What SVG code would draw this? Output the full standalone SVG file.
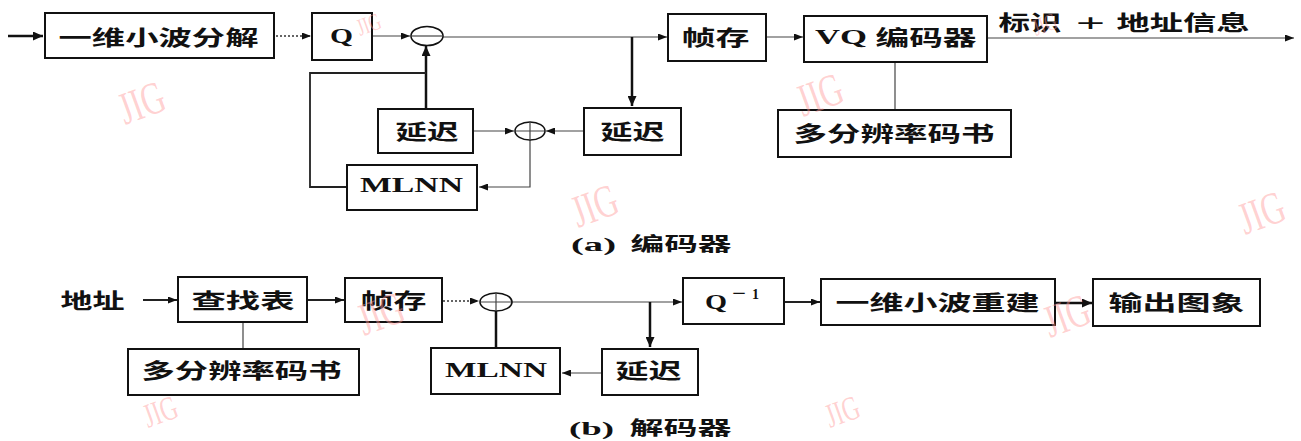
<svg xmlns="http://www.w3.org/2000/svg" width="1301" height="441" viewBox="0 0 1301 441">
<style>
.box{fill:#fff;stroke:#111;stroke-width:2}
.sum{fill:#fff;stroke:#111;stroke-width:1.6}
.cjk{font-family:"Noto Sans CJK SC","Noto Sans CJK JP",sans-serif;font-weight:700;font-size:21px;fill:#111}
.cap{font-family:"Noto Sans CJK SC","Noto Sans CJK JP",sans-serif;font-weight:700;font-size:19px;fill:#111}
.lat{font-family:"Liberation Serif",serif;font-weight:700;font-size:20px;fill:#111}
.thin{fill:none;stroke:#444;stroke-width:1.2}
.thick{fill:none;stroke:#111;stroke-width:2.5}
.med{fill:none;stroke:#222;stroke-width:1.8}
.dot{fill:none;stroke:#333;stroke-width:1.4;stroke-dasharray:2 2}
.wm{font-family:"Liberation Serif",serif;font-size:46px;fill:#ff9a9a;fill-opacity:0.45}
</style>
<defs>
<marker id="ah" markerUnits="userSpaceOnUse" markerWidth="9" markerHeight="7" refX="9" refY="3.5" orient="auto"><path d="M0,0 L9,3.5 L0,7 z" fill="#111"/></marker>
<marker id="ahb" markerUnits="userSpaceOnUse" markerWidth="10" markerHeight="9" refX="10" refY="4.5" orient="auto"><path d="M0,0 L10,4.5 L0,9 z" fill="#111"/></marker>
</defs>
<rect width="1301" height="441" fill="#fff"/>

<g id="connectors">
<path class="thick" d="M8,36 H43" marker-end="url(#ahb)"/>
<path class="dot" d="M276,36 H311" marker-end="url(#ah)"/>
<path class="thin" d="M372,36 H410" marker-end="url(#ah)"/>
<path class="thin" d="M443,37 H667" marker-end="url(#ah)"/>
<path class="thick" d="M632,37 V106" marker-end="url(#ahb)"/>
<path class="thin" d="M766,37 H803" marker-end="url(#ah)"/>
<path class="thin" d="M987,38 H1294" marker-end="url(#ah)"/>
<path class="thin" d="M895,62 V110"/>
<path class="thin" d="M584,131 H546" marker-end="url(#ah)"/>
<path class="thin" d="M474,131 H514" marker-end="url(#ah)"/>
<path class="thick" d="M426,109 V46" marker-end="url(#ahb)"/>
<path class="med" d="M347,187 H310 V73 H426"/>
<path class="thin" d="M530,140 V187 H479" marker-end="url(#ah)"/>

<path class="med" d="M143,300 H177" marker-end="url(#ah)"/>
<path class="med" d="M307,300 H344" marker-end="url(#ah)"/>
<path class="thin" d="M243,322 V349"/>
<path class="dot" d="M443,301 H479" marker-end="url(#ah)"/>
<path class="thin" d="M512,302 H682" marker-end="url(#ah)"/>
<path class="thick" d="M650,302 V347" marker-end="url(#ahb)"/>
<path class="med" d="M784,302 H820" marker-end="url(#ah)"/>
<path class="thick" d="M1055,303 H1092" marker-end="url(#ahb)"/>
<path class="thick" d="M496,311 V348"/>
<path class="thin" d="M602,373 H562" marker-end="url(#ah)"/>
</g>

<g id="a_wavelet"><rect class="box" x="45" y="13" width="229" height="45"/><text class="cjk" x="58.5" y="45" textLength="200" lengthAdjust="spacingAndGlyphs">一维小波分解</text></g>
<g id="a_q"><rect class="box" x="312" y="13" width="60" height="47"/><text class="lat" x="330" y="43" textLength="23" lengthAdjust="spacingAndGlyphs">Q</text></g>
<g id="a_minus"><ellipse class="sum" cx="427" cy="36" rx="16" ry="9.5"/><path class="thin" d="M411,36 H443"/></g>
<g id="a_framebuf"><rect class="box" x="668" y="14" width="98" height="47"/><text class="cjk" x="681.5" y="45" textLength="68" lengthAdjust="spacingAndGlyphs">帧存</text></g>
<g id="a_vq"><rect class="box" x="804" y="16" width="183" height="46"/><text class="lat" x="815" y="44" textLength="52" lengthAdjust="spacingAndGlyphs">VQ</text><text class="cjk" x="875.5" y="45" textLength="101" lengthAdjust="spacingAndGlyphs">编码器</text></g>
<g id="a_outlabel"><text class="cjk" x="998.5" y="30" textLength="63" lengthAdjust="spacingAndGlyphs">标识</text><text x="1076" y="31" textLength="29" lengthAdjust="spacingAndGlyphs" style="font-family:'Liberation Sans',sans-serif;font-size:24px;fill:#111">+</text><text class="cjk" x="1116.5" y="30" textLength="133" lengthAdjust="spacingAndGlyphs">地址信息</text></g>
<g id="a_codebook"><rect class="box" x="778" y="110" width="233" height="47"/><text class="cjk" x="793.5" y="141" textLength="201" lengthAdjust="spacingAndGlyphs">多分辨率码书</text></g>
<g id="a_delay2"><rect class="box" x="584" y="108" width="97" height="47"/><text class="cjk" x="600.5" y="139" textLength="64" lengthAdjust="spacingAndGlyphs">延迟</text></g>
<g id="a_plus"><ellipse class="sum" cx="530" cy="131" rx="15" ry="9"/><path class="thin" d="M516,131 H544 M530,123 V140"/></g>
<g id="a_delay1"><rect class="box" x="378" y="109" width="95" height="44"/><text class="cjk" x="395.5" y="139" textLength="63" lengthAdjust="spacingAndGlyphs">延迟</text></g>
<g id="a_mlnn"><rect class="box" x="347" y="165" width="130" height="45"/><text class="lat" x="360" y="192" style="font-size:22px" textLength="103" lengthAdjust="spacingAndGlyphs">MLNN</text></g>
<g id="a_caption"><text class="lat" x="571" y="251" style="font-size:19px" textLength="45" lengthAdjust="spacingAndGlyphs">(a)</text><text class="cap" x="630.5" y="251" textLength="101" lengthAdjust="spacingAndGlyphs">编码器</text></g>

<g id="b_addr"><text class="cjk" x="60.5" y="308" textLength="64" lengthAdjust="spacingAndGlyphs">地址</text></g>
<g id="b_lookup"><rect class="box" x="178" y="277" width="129" height="45"/><text class="cjk" x="191.5" y="308" textLength="103" lengthAdjust="spacingAndGlyphs">查找表</text></g>
<g id="b_framebuf"><rect class="box" x="345" y="278" width="97" height="44"/><text class="cjk" x="360.5" y="308" textLength="66" lengthAdjust="spacingAndGlyphs">帧存</text></g>
<g id="b_codebook"><rect class="box" x="128" y="349" width="231" height="46"/><text class="cjk" x="141.5" y="378" textLength="200" lengthAdjust="spacingAndGlyphs">多分辨率码书</text></g>
<g id="b_plus"><ellipse class="sum" cx="496" cy="302" rx="16" ry="9"/><path class="thin" d="M481,302 H511 M496,294 V311"/></g>
<g id="b_qinv"><rect class="box" x="683" y="278" width="101" height="46"/><text class="lat" x="705" y="309" textLength="22" lengthAdjust="spacingAndGlyphs">Q</text><text class="lat" x="732" y="299" style="font-size:18px" textLength="14" lengthAdjust="spacingAndGlyphs">−</text><text class="lat" x="752" y="299" style="font-size:14px">1</text></g>
<g id="b_recon"><rect class="box" x="821" y="279" width="234" height="46"/><text class="cjk" x="835.5" y="310" textLength="204" lengthAdjust="spacingAndGlyphs">一维小波重建</text></g>
<g id="b_output"><rect class="box" x="1093" y="279" width="167" height="47"/><text class="cjk" x="1108.5" y="310" textLength="136" lengthAdjust="spacingAndGlyphs">输出图象</text></g>
<g id="b_mlnn"><rect class="box" x="431" y="348" width="129" height="46"/><text class="lat" x="445" y="377" style="font-size:22px" textLength="102" lengthAdjust="spacingAndGlyphs">MLNN</text></g>
<g id="b_delay"><rect class="box" x="602" y="349" width="96" height="46"/><text class="cjk" x="615.5" y="378" textLength="66" lengthAdjust="spacingAndGlyphs">延迟</text></g>
<g id="b_caption"><text class="lat" x="569" y="435" style="font-size:19px" textLength="45" lengthAdjust="spacingAndGlyphs">(b)</text><text class="cap" x="629.5" y="435" textLength="102" lengthAdjust="spacingAndGlyphs">解码器</text></g>

<g id="watermarks">
<text class="wm" transform="translate(125,125) rotate(-20) scale(0.7,1)">JIG</text>
<text class="wm" transform="translate(578,228) rotate(-20) scale(0.7,1)">JIG</text>
<text class="wm" transform="translate(803,117) rotate(-20) scale(0.7,1)">JIG</text>
<text class="wm" style="font-size:24px" transform="translate(1036,36) rotate(-20) scale(0.7,1)">JIG</text>
<text class="wm" style="font-size:24px" transform="translate(360,36) rotate(-20) scale(0.7,1)">JIG</text>
<text class="wm" transform="translate(1245,235) rotate(-20) scale(0.7,1)">JIG</text>
<text class="wm" transform="translate(364,336) rotate(-20) scale(0.7,1)">JIG</text>
<text class="wm" transform="translate(1050,338) rotate(-20) scale(0.7,1)">JIG</text>
<text class="wm" style="font-size:34px" transform="translate(148,428) rotate(-20) scale(0.7,1)">JIG</text>
<text class="wm" style="font-size:34px" transform="translate(830,428) rotate(-20) scale(0.7,1)">JIG</text>
</g>
</svg>
